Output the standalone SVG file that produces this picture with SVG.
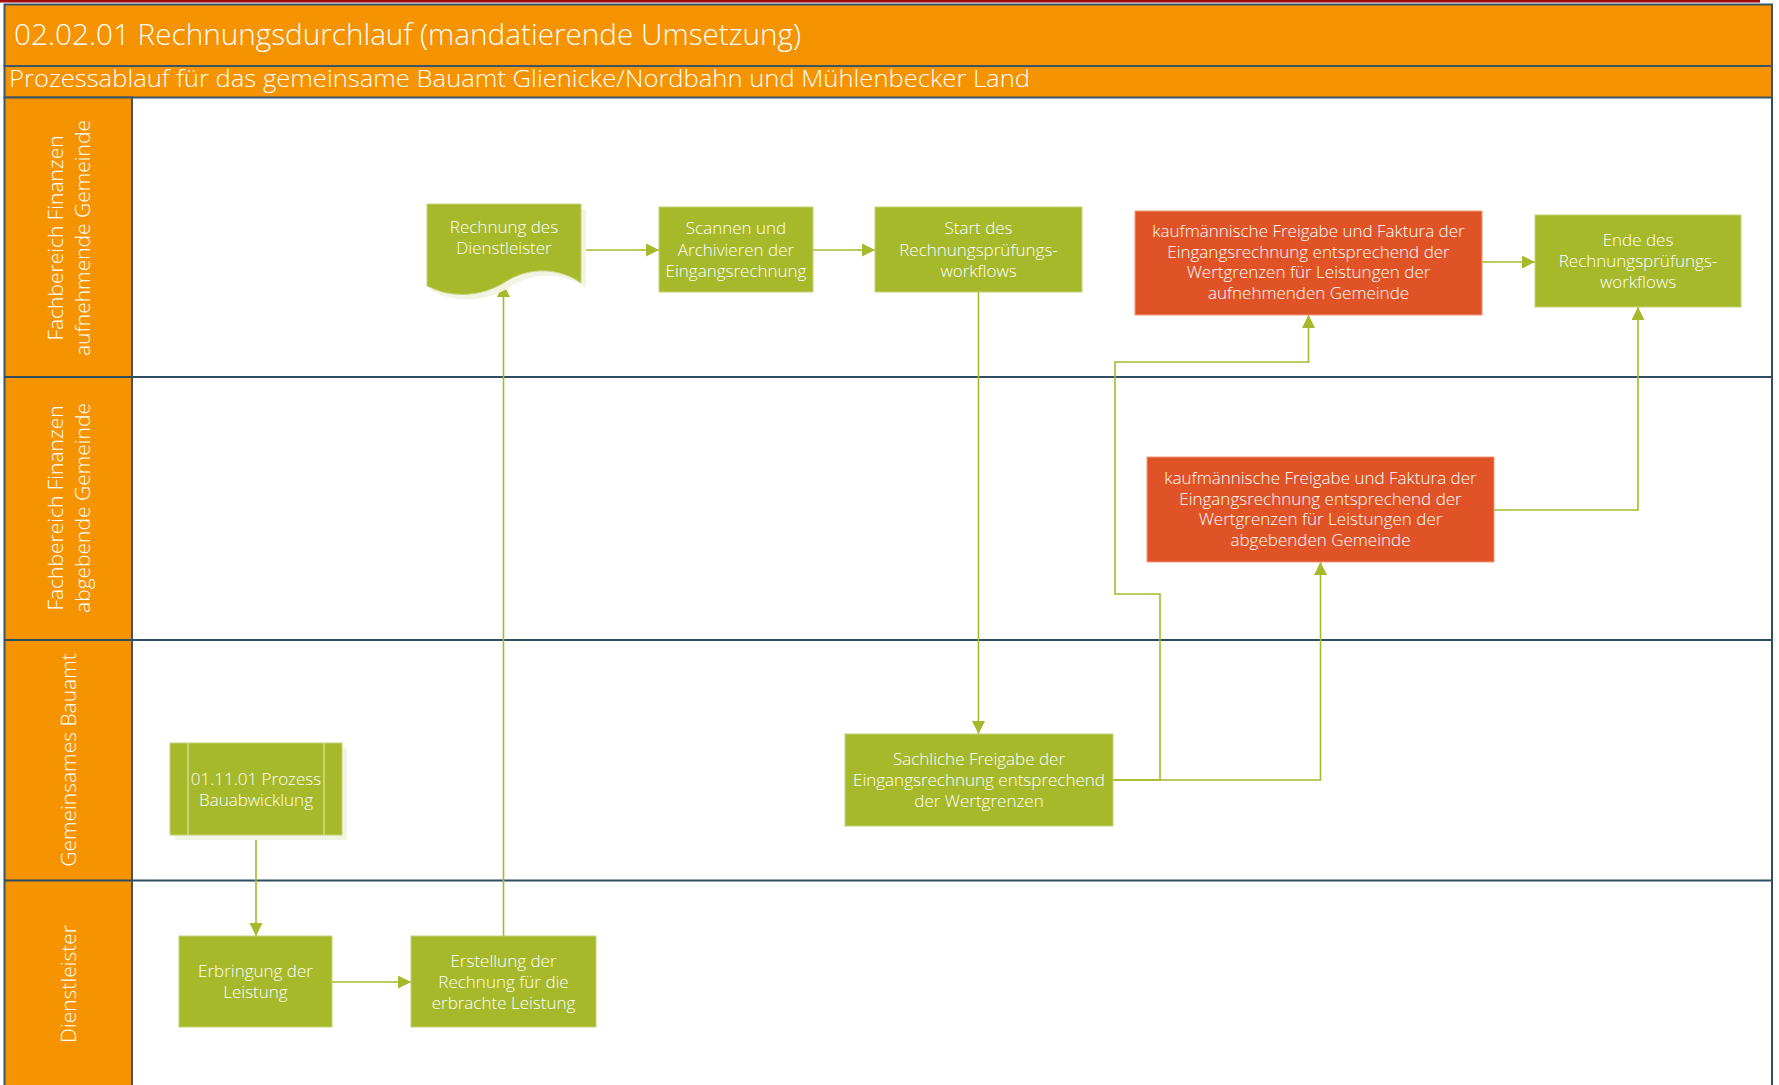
<svg xmlns="http://www.w3.org/2000/svg" width="1779" height="1085" viewBox="0 0 1779 1085">
  <style>
    .band { fill: #F59300; stroke: #3b5567; stroke-width: 2; }
    .lanebg { fill: #ffffff; }
    .divider { stroke: #2f4d60; stroke-width: 2; fill: none; }
    .title { font-family: "Open Sans", "Noto Sans", sans-serif; font-weight: 300; fill: #ffffff; }
    .lane { font-family: "Open Sans", "Noto Sans", sans-serif; font-weight: 300; font-size: 21px; fill: #ffffff; text-anchor: middle; }
    .node { font-family: "Open Sans", "Noto Sans", sans-serif; font-weight: 300; font-size: 17px; fill: #ffffff; text-anchor: middle; }
    .green { fill: #A6B92B; stroke: #c3d27a; stroke-width: 1; }
    .red { fill: #E05327; stroke: #ef9a7c; stroke-width: 1; }
    .shadow { fill: #f1f4e2; }
    .inner { stroke: #d9e4a6; stroke-width: 1.2; }
    .conn { fill: none; stroke: #A6B92B; stroke-width: 1.6; marker-end: url(#arrow); }
  </style>
  <defs>
    <marker id="arrow" markerUnits="userSpaceOnUse" markerWidth="14" markerHeight="14" refX="13" refY="6.5" orient="auto">
      <path d="M0,0 L13,6.5 L0,13 Z" fill="#A6B92B"/>
    </marker>
  </defs>

  <rect x="0" y="0" width="1779" height="1085" fill="#ffffff"/>
  <line x1="0" y1="1" x2="1760" y2="1" stroke="#a00a0a" stroke-width="3"/>

  <!-- pool / lanes -->
  <g id="pool">
    <rect class="lanebg" x="4.5" y="97.5" width="1767.5" height="1000"/>
    <rect class="band" x="4.5" y="4.5" width="1767.5" height="61.5"/>
    <rect class="band" x="4.5" y="66" width="1767.5" height="31.5"/>
    <rect class="band" x="4.5" y="97.5" width="127.5" height="1000"/>
    <line class="divider" x1="1772" y1="97.5" x2="1772" y2="1085"/>
    <line class="divider" x1="4.5" y1="377" x2="1772" y2="377"/>
    <line class="divider" x1="4.5" y1="640" x2="1772" y2="640"/>
    <line class="divider" x1="4.5" y1="880.5" x2="1772" y2="880.5"/>
    <text class="title" x="14" y="45" font-size="28.5" textLength="787" lengthAdjust="spacingAndGlyphs">02.02.01 Rechnungsdurchlauf (mandatierende Umsetzung)</text>
    <text class="title" x="9" y="87" font-size="24.5" textLength="1021" lengthAdjust="spacingAndGlyphs">Prozessablauf für das gemeinsame Bauamt Glienicke/Nordbahn und Mühlenbecker Land</text>
  </g>

  <g id="lane-aufnehmend">
    <text class="lane" transform="translate(68,238) rotate(-90)"><tspan x="0" y="-5">Fachbereich Finanzen</tspan><tspan x="0" y="22">aufnehmende Gemeinde</tspan></text>
  </g>
  <g id="lane-abgebend">
    <text class="lane" transform="translate(68,508) rotate(-90)"><tspan x="0" y="-5">Fachbereich Finanzen</tspan><tspan x="0" y="22">abgebende Gemeinde</tspan></text>
  </g>
  <g id="lane-bauamt">
    <text class="lane" transform="translate(68,760) rotate(-90)" x="0" y="8">Gemeinsames Bauamt</text>
  </g>
  <g id="lane-dienstleister">
    <text class="lane" transform="translate(68,984) rotate(-90)" x="0" y="8">Dienstleister</text>
  </g>

  <!-- connectors -->
  <g id="connectors">
    <path class="conn" d="M256,835 V936"/>
    <path class="conn" d="M332,982 H411"/>
    <path class="conn" d="M503.5,936 V284"/>
    <path class="conn" d="M581,250 H659"/>
    <path class="conn" d="M813,250 H875"/>
    <path class="conn" d="M978.5,292 V734"/>
    <path class="conn" d="M1113,780 H1160 V594 H1115 V362 H1308.5 V315"/>
    <path class="conn" d="M1113,780 H1320.5 V562"/>
    <path class="conn" d="M1482,262 H1535"/>
    <path class="conn" d="M1494,510 H1638 V307"/>
  </g>

  <!-- nodes -->
  <g id="node-rechnung">
    <path class="shadow" transform="translate(5,5)" d="M427,204 H581 V283 C560,268 530,266 505,282 C485,295 455,300 427,286 Z"/>
    <path class="green" d="M427,204 H581 V283 C560,268 530,266 505,282 C485,295 455,300 427,286 Z"/>
    <text class="node"><tspan x="504" y="233">Rechnung des</tspan><tspan x="504" y="254">Dienstleister</tspan></text>
  </g>
  <g id="node-scannen">
    <rect class="green" x="659" y="207" width="154" height="85"/>
    <text class="node"><tspan x="736" y="234">Scannen und</tspan><tspan x="736" y="255.5">Archivieren der</tspan><tspan x="736" y="277">Eingangsrechnung</tspan></text>
  </g>
  <g id="node-start">
    <rect class="green" x="875" y="207" width="207" height="85"/>
    <text class="node"><tspan x="978.5" y="234">Start des</tspan><tspan x="978.5" y="255.5">Rechnungsprüfungs-</tspan><tspan x="978.5" y="277">workflows</tspan></text>
  </g>
  <g id="node-kfm-aufnehmend">
    <rect class="red" x="1135" y="211" width="347" height="104"/>
    <text class="node"><tspan x="1308.5" y="237">kaufmännische Freigabe und Faktura der</tspan><tspan x="1308.5" y="257.5">Eingangsrechnung entsprechend der</tspan><tspan x="1308.5" y="278">Wertgrenzen für Leistungen der</tspan><tspan x="1308.5" y="298.5">aufnehmenden Gemeinde</tspan></text>
  </g>
  <g id="node-ende">
    <rect class="green" x="1535" y="215" width="206" height="92"/>
    <text class="node"><tspan x="1638" y="246">Ende des</tspan><tspan x="1638" y="267">Rechnungsprüfungs-</tspan><tspan x="1638" y="288">workflows</tspan></text>
  </g>
  <g id="node-kfm-abgebend">
    <rect class="red" x="1147" y="457" width="347" height="105"/>
    <text class="node"><tspan x="1320.5" y="484">kaufmännische Freigabe und Faktura der</tspan><tspan x="1320.5" y="504.5">Eingangsrechnung entsprechend der</tspan><tspan x="1320.5" y="525">Wertgrenzen für Leistungen der</tspan><tspan x="1320.5" y="545.5">abgebenden Gemeinde</tspan></text>
  </g>
  <g id="node-sachlich">
    <rect class="green" x="845" y="734" width="268" height="92"/>
    <text class="node"><tspan x="979" y="765">Sachliche Freigabe der</tspan><tspan x="979" y="786">Eingangsrechnung entsprechend</tspan><tspan x="979" y="807">der Wertgrenzen</tspan></text>
  </g>
  <g id="node-prozess">
    <rect class="shadow" x="175" y="748" width="172" height="92"/>
    <rect class="green" x="170" y="743" width="172" height="92"/>
    <line class="inner" x1="188" y1="743" x2="188" y2="835"/>
    <line class="inner" x1="324" y1="743" x2="324" y2="835"/>
    <text class="node"><tspan x="256" y="785">01.11.01 Prozess</tspan><tspan x="256" y="806">Bauabwicklung</tspan></text>
  </g>
  <g id="node-erbringung">
    <rect class="green" x="179" y="936" width="153" height="91"/>
    <text class="node"><tspan x="255.5" y="977">Erbringung der</tspan><tspan x="255.5" y="998">Leistung</tspan></text>
  </g>
  <g id="node-erstellung">
    <rect class="green" x="411" y="936" width="185" height="91"/>
    <text class="node"><tspan x="503.5" y="967">Erstellung der</tspan><tspan x="503.5" y="988">Rechnung für die</tspan><tspan x="503.5" y="1009">erbrachte Leistung</tspan></text>
  </g>
</svg>
